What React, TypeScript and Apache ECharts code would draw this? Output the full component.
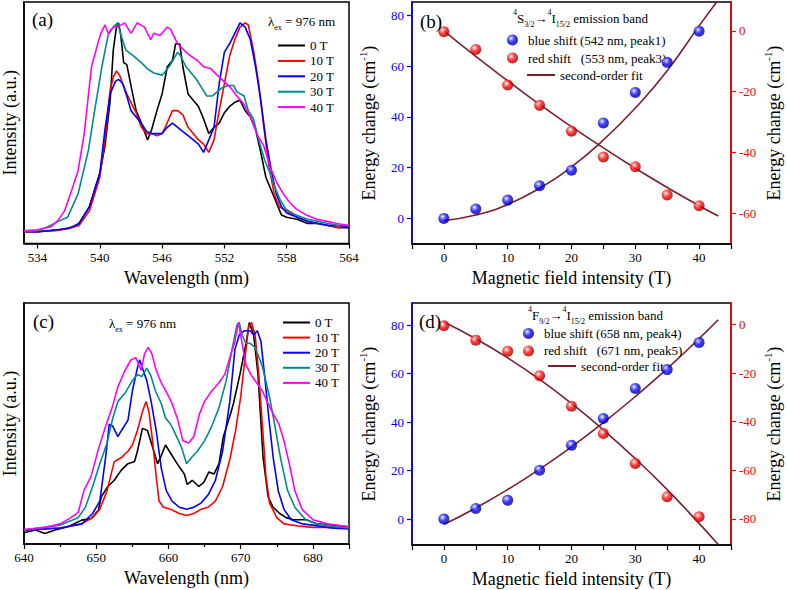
import React, { useEffect, useRef } from 'react';
import * as echarts from 'echarts';

const FONT = 'Liberation Serif';

// ---------- Panel (a): 4S3/2 -> 4I15/2 spectra (wavelength nm, intensity a.u.) ----------
const a0T: [number, number][] = [[532.7,0],[534,0],[536,0.8],[537.5,2.4],[538,4],[539,12],[540,28],[540.5,41],[541,63],[541.3,87],[541.6,98],[541.8,100],[542,95],[542.3,81],[542.6,80],[543,70],[543.5,58],[544,52],[544.6,44],[545,49],[545.5,58],[546,66],[546.5,79],[547,82],[547.3,90],[547.7,90],[548,79],[548.5,66],[549,63],[549.5,60],[550,54],[550.5,47],[551,50],[551.5,52],[552,57],[552.5,60],[553,62],[553.5,63],[554,58],[554.5,55],[555,49],[555.5,38],[556,26],[556.5,20],[557,14],[557.5,8],[558,7],[559,6],[560,4],[561,4],[562,3],[563,2],[564,2]];
const a10T: [number, number][] = [[532.7,0],[534,0],[536,0.8],[537,1.6],[538,3],[539,10],[540,26],[540.5,44],[541,68],[541.3,74],[541.6,77],[541.9,75],[542.2,71],[542.6,66],[543,62],[543.5,57],[544,50],[544.5,47],[545,47],[545.5,46],[546,47],[546.3,50],[547,58],[547.5,58],[548,56],[548.5,50],[549,47],[549.5,44],[550,42],[550.5,38],[551,44],[551.5,58],[552,71],[552.5,84],[553,92],[553.5,98],[554,100],[554.3,99],[554.8,87],[555.3,71],[555.8,50],[556.3,31],[556.8,18],[557.3,12],[558,10],[559,7],[560,5],[561,4],[562,3],[563,2],[564,3]];
const a20T: [number, number][] = [[532.7,0],[534,0],[537,1.6],[538,4],[539,12],[540,28],[540.5,49],[541,66],[541.5,72],[541.8,73],[542.2,71],[542.6,65],[543,58],[543.5,55],[544,52],[544.5,48],[545,47],[545.5,47],[546,47],[546.5,50],[547,52],[547.5,50],[548,48],[548.5,46],[549,44],[549.5,42],[550,38],[550.5,44],[551,50],[551.5,71],[552,86],[552.5,90],[553,95],[553.5,100],[554,98],[554.5,92],[555,79],[555.5,63],[556,44],[556.5,30],[557,18],[557.5,12],[558,9],[559,7],[560,5],[561,4],[562,3],[563,3],[564,2]];
const a30T: [number, number][] = [[532.7,0],[534,0.5],[535,2.4],[536,5],[536.9,7],[537.9,18],[538.9,39],[539.5,58],[540.2,79],[540.8,94],[541.3,98],[541.7,100],[542.05,94],[542.5,87],[543.3,84],[544,81],[544.6,78],[545.2,76],[546,75],[546.2,76],[546.8,80],[547.5,86],[547.8,84],[548.3,79],[548.8,76],[549.3,73],[549.8,69],[550.3,65],[550.8,65],[551.3,67],[551.8,69],[552.4,70],[552.9,70],[553.2,67],[553.9,65],[554.3,58],[554.8,54],[555.3,44],[555.9,34],[556.4,28],[556.8,22],[557.4,15],[557.9,11],[558.9,8],[560,6],[561,5],[562,4],[563,3],[564,3]];
const a40T: [number, number][] = [[532.7,0.5],[534,1],[535.3,2.4],[536,5.6],[536.6,10],[537.3,20],[537.9,29],[538.5,47],[539.2,79],[539.8,90],[540.1,95],[540.5,99],[540.8,95],[541.3,98],[541.7,98],[542.4,100],[543,95],[543.6,100],[544.3,98],[544.9,92],[545.2,95],[545.8,94],[546.5,98],[546.8,97],[547.5,90],[548.3,86],[548.8,84],[549.4,82],[550,79],[550.7,78],[551.3,75],[551.95,72],[552.6,69],[553.2,65],[553.9,61],[554.5,55],[555.2,46],[555.8,41],[556.4,31],[557.1,23],[557.7,18],[558.3,14],[558.9,11],[559.9,8],[560.9,6],[561.9,5],[562.8,4],[564,3]];

// ---------- Panel (c): 4F9/2 -> 4I15/2 spectra ----------
const c0T: [number, number][] = [[640,-1.3],[641.6,0],[642.9,-1.6],[644.3,0],[646.1,1.6],[648,4.8],[649.3,5.6],[650.3,9.6],[650.7,16],[651.6,21],[652.5,24],[653.5,29],[654.4,32],[655.3,33],[655.7,38],[656.4,49],[657.1,48],[657.8,40],[658.5,32],[658.9,35],[659.6,41],[660.3,37],[661.2,32],[662.2,27],[662.6,22],[663.3,24],[664.2,21],[664.9,23],[665.6,28],[666.3,27],[667,32],[667.6,45],[668.6,56],[669,61],[669.9,75],[670.8,91],[671.2,100],[671.8,94],[672.4,75],[673.1,35],[673.8,16],[674.5,11],[675.4,8],[676.3,6],[677.3,5],[678.2,5],[679.1,5],[680.5,3],[682.7,2.4],[684.9,1.6]];
const c10T: [number, number][] = [[640,0],[645,1],[648,3],[649.5,6],[650.5,10],[651.5,19],[652.5,33],[653.5,35],[654.4,38],[655,41],[655.7,48],[656.4,57],[656.9,62],[657.3,57],[657.8,43],[658.3,26],[658.7,14],[659.3,11],[660.3,10],[661.5,8],[662.5,7],[663.5,8],[664.5,10],[665.5,11],[666.5,14],[667.5,21],[668.5,34],[669.3,48],[670,64],[670.6,83],[671.1,98],[671.5,100],[672,94],[672.5,75],[673,51],[673.5,26],[674,13],[675,6],[676,3],[678,2],[680,1.3],[685,1.3]];
const c20T: [number, number][] = [[640,0],[645,1],[648,3],[649.5,8],[650.5,14],[651.3,35],[651.8,51],[652.3,50],[653,45],[653.5,48],[654.4,53],[655,67],[655.7,78],[656,82],[656.5,77],[657,72],[657.6,62],[658.3,48],[659,30],[659.7,19],[660.5,14],[661.5,11],[662.5,10],[663.5,11],[664.5,13],[665.5,17],[666.5,24],[667.5,38],[668.5,62],[669.2,87],[669.8,94],[670.5,96],[671.3,96],[671.8,94],[672.3,96],[672.8,91],[673.3,75],[673.9,54],[674.5,35],[675.2,19],[676,10],[677,5],[678.5,3],[680,2.4],[682.5,1],[685,0.5]];
const c30T: [number, number][] = [[640,0],[645,2.4],[647.5,6],[648.5,11],[649.5,21],[650.5,32],[651.5,42],[652.3,54],[653,62],[654,66],[655,72],[655.7,75],[656.3,74],[657,78],[657.6,74],[658.2,67],[659,61],[659.6,54],[660.3,51],[661,46],[661.8,40],[662.5,32],[663.2,35],[664,38],[665,43],[666,50],[667,59],[668,72],[668.8,87],[669.5,99],[669.8,100],[670.2,94],[670.7,90],[671.3,90],[672,88],[673,79],[674,64],[674.7,51],[675.5,35],[676.5,19],[677.5,11],[679,5],[680.5,3],[683,1.6],[685,1]];
const c40T: [number, number][] = [[640,0.3],[643,1.3],[645,3],[646.5,6],[647.5,8.5],[648.3,19],[649.3,26],[650.3,39],[651.3,50],[652.2,59],[653,69],[654,77],[654.8,82],[655.5,83],[656.2,77],[656.7,85],[657.2,88],[657.7,85],[658.3,77],[659,71],[659.8,66],[660.5,61],[661.3,53],[662,43],[662.8,42],[663.5,45],[664.3,56],[665,62],[666,67],[667,71],[667.8,75],[668.5,83],[669.2,91],[669.7,100],[670.2,90],[670.7,80],[671.4,75],[672.2,71],[673,67],[673.8,61],[674.5,56],[675.3,51],[676,43],[676.8,31],[677.5,19],[678.5,10],[680,5],[682,3],[685,1.6]];

const fieldNames = ['0 T', '10 T', '20 T', '30 T', '40 T'];
const fieldColors = ['#000000', '#ff0000', '#0000ff', '#008b8b', '#ff00ff'];

// ---------- Panels (b) and (d): energy shifts vs magnetic field ----------
const fieldT = [0, 5, 10, 15, 20, 25, 30, 35, 40];
const bBlue = [0, 3.7, 7.2, 12.9, 19, 37.6, 49.6, 61.5, 73.8];
const bRed = [-0.3, -6.1, -17.8, -24.5, -33, -41.5, -44.7, -54, -57.5];
const dBlue = [0, 4.4, 7.8, 20.2, 30.5, 41.5, 53.9, 61.7, 72.9];
const dRed = [-0.5, -6.4, -11, -21.1, -33.6, -44.9, -57.2, -70.9, -79.2];

const fitT = [0, 5, 10, 15, 20, 25, 30, 35, 40, 43];
const bBlueFit = [-0.9, 1.3, 5.5, 11.9, 20.3, 30.9, 43.5, 58.2, 75.9, 86.1];
const bRedFit = [0, -8.4, -16.4, -24.2, -31.5, -38.5, -45.2, -51.5, -57.5, -60.9];
const dBlueFit = [-2.2, 4.6, 12.2, 20.6, 29.8, 39.8, 50.6, 62.1, 74.5, 82.3];
const dRedFit = [1.1, -5.8, -13.7, -22.6, -32.5, -43.4, -55.2, -68.0, -81.9, -90.6];

const wlTicksA = [534, 540, 546, 552, 558, 564];
const leftTicks = [0, 20, 40, 60, 80];
const rightTicksB = [-60, -40, -20, 0];
const rightTicksD = [-80, -60, -40, -20, 0];

const bLegend = ['blue shift (542 nm, peak1)', 'red shift   (553 nm, peak3)'];
const dLegend = ['blue shift (658 nm, peak4)', 'red shift   (671 nm, peak5)'];
const fitName = 'second-order fit';

const ball = (c1: string, c2: string, c3: string) => ({
  type: 'radial', x: 0.38, y: 0.35, r: 0.62,
  colorStops: [
    { offset: 0, color: '#ffffff' },
    { offset: 0.28, color: c1 },
    { offset: 0.6, color: c2 },
    { offset: 1, color: c3 },
  ],
});
const blueBall = ball('#6a6aff', '#0000ff', '#000090');
const redBall = ball('#ff7070', '#ff0000', '#a00000');

const FIT_COLOR = '#7a1f2e';

const axisNameStyle = {
  fontSize: 18, fontFamily: FONT, color: '#000', lineHeight: 24,
  rich: { sup: { fontSize: 11, fontFamily: FONT, color: '#000', verticalAlign: 'top', lineHeight: 12 } },
};

function spectraX(gridIndex: number, min: number, max: number, extra: any) {
  return {
    type: 'value', gridIndex, min, max,
    axisLine: { onZero: false, lineStyle: { color: '#000', width: 1.5 } },
    splitLine: { show: false },
    name: 'Wavelength (nm)', nameLocation: 'middle', nameGap: 25,
    nameTextStyle: { fontSize: 18, fontFamily: FONT, color: '#000' },
    ...extra,
  };
}

function spectraY(gridIndex: number, min: number, max: number) {
  return {
    type: 'value', gridIndex, min, max,
    axisLine: { show: true, onZero: false, lineStyle: { color: '#000', width: 1.5 } },
    axisTick: { show: false }, axisLabel: { show: false }, splitLine: { show: false },
    name: 'Intensity (a.u.)', nameLocation: 'middle', nameGap: 5, nameRotate: 90,
    nameTextStyle: { fontSize: 18, fontFamily: FONT, color: '#000' },
  };
}

function fieldX(gridIndex: number) {
  return {
    type: 'value', gridIndex, min: -5, max: 45, interval: 5,
    axisLine: { onZero: false, lineStyle: { color: '#000', width: 1.5 } },
    axisTick: { length: 5, lineStyle: { color: '#000', width: 1.2 } },
    axisLabel: {
      fontSize: 13, fontFamily: FONT, color: '#000', margin: 7,
      formatter: (v: number) => (v % 10 === 0 ? String(v) : ''),
    },
    splitLine: { show: false },
    name: 'Magnetic field intensity (T)', nameLocation: 'middle', nameGap: 25,
    nameTextStyle: { fontSize: 18, fontFamily: FONT, color: '#000' },
  };
}

function energyY(gridIndex: number, position: string, min: number, max: number, ticks: number[], color: string, gap: number) {
  return {
    type: 'value', gridIndex, position, min, max,
    axisLine: { show: true, onZero: false, lineStyle: { color, width: 1.5 } },
    axisTick: { show: true, length: 5, customValues: ticks, lineStyle: { color, width: 1.2 } },
    axisLabel: { fontSize: 13, fontFamily: FONT, color, customValues: ticks, margin: 8 },
    splitLine: { show: false },
    name: 'Energy change (cm{sup|-1})', nameLocation: 'middle', nameGap: gap, nameRotate: 90,
    nameTextStyle: axisNameStyle,
  };
}

const richSS = {
  sup: { fontSize: 8, fontFamily: FONT, fill: '#000', verticalAlign: 'top', lineHeight: 9 },
  sub: { fontSize: 8, fontFamily: FONT, fill: '#000', verticalAlign: 'bottom', lineHeight: 9 },
};

function label(text: string, x: number, y: number, size: number) {
  return {
    type: 'text', x, y, z: 100,
    style: { text, fontSize: size, fontFamily: FONT, fill: '#000', verticalAlign: 'middle', align: 'left', lineHeight: 20, rich: richSS },
  };
}

export default function App() {
  const ref = useRef<HTMLDivElement>(null);
  useEffect(() => {
    if (!ref.current) return;
    const chart = echarts.init(ref.current, undefined, { renderer: 'svg' });
    const aSets = [a0T, a10T, a20T, a30T, a40T];
    const cSets = [c0T, c10T, c20T, c30T, c40T];
    const series: any[] = [];
    aSets.forEach((d, i) => series.push({
      type: 'line', name: fieldNames[i], xAxisIndex: 0, yAxisIndex: 0, data: d,
      symbol: 'none', showSymbol: false, color: fieldColors[i], lineStyle: { width: 1.6, color: fieldColors[i] },
    }));
    cSets.forEach((d, i) => series.push({
      type: 'line', name: fieldNames[i], xAxisIndex: 2, yAxisIndex: 3, data: d,
      symbol: 'none', showSymbol: false, color: fieldColors[i], lineStyle: { width: 1.6, color: fieldColors[i] },
    }));
    const fitLine = (xIdx: number, yIdx: number, vals: number[]) => ({
      type: 'line', name: fitName, xAxisIndex: xIdx, yAxisIndex: yIdx, smooth: true,
      data: fitT.map((t, i) => [t, vals[i]]), symbol: 'none', showSymbol: false,
      color: FIT_COLOR, lineStyle: { width: 1.6, color: FIT_COLOR }, z: 3,
    });
    const dots = (name: string, xIdx: number, yIdx: number, vals: number[], fill: any) => ({
      type: 'scatter', name, xAxisIndex: xIdx, yAxisIndex: yIdx, symbol: 'circle', symbolSize: 11,
      data: fieldT.map((t, i) => [t, vals[i]]), itemStyle: { color: fill }, z: 4,
    });
    series.push(fitLine(1, 1, bBlueFit), fitLine(1, 2, bRedFit));
    series.push(dots(bLegend[0], 1, 1, bBlue, blueBall), dots(bLegend[1], 1, 2, bRed, redBall));
    series.push(fitLine(3, 4, dBlueFit), fitLine(3, 5, dRedFit));
    series.push(dots(dLegend[0], 3, 4, dBlue, blueBall), dots(dLegend[1], 3, 5, dRed, redBall));

    const legText = { fontSize: 13, fontFamily: FONT, color: '#000' };
    const option: any = {
      animation: false,
      backgroundColor: '#ffffff',
      textStyle: { fontFamily: FONT },
      grid: [
        { left: 22, top: 2, width: 327, height: 241.5, show: true, borderColor: '#000', borderWidth: 1.5, backgroundColor: 'transparent' },
        { left: 412, top: 2, width: 325, height: 242, show: true, borderColor: '#000', borderWidth: 1.5, backgroundColor: 'transparent' },
        { left: 22, top: 303, width: 327, height: 241, show: true, borderColor: '#000', borderWidth: 1.5, backgroundColor: 'transparent' },
        { left: 412, top: 303, width: 325, height: 242, show: true, borderColor: '#000', borderWidth: 1.5, backgroundColor: 'transparent' },
      ],
      xAxis: [
        spectraX(0, 532.7, 564, {
          axisTick: { length: 5, customValues: wlTicksA, lineStyle: { color: '#000', width: 1.2 } },
          axisLabel: { fontSize: 13, fontFamily: FONT, color: '#000', margin: 7, customValues: wlTicksA },
        }),
        fieldX(1),
        spectraX(2, 640, 685, {
          interval: 10,
          axisTick: { length: 5, lineStyle: { color: '#000', width: 1.2 } },
          minorTick: { show: true, splitNumber: 2, length: 3, lineStyle: { color: '#000', width: 1.2 } },
          axisLabel: { fontSize: 13, fontFamily: FONT, color: '#000', margin: 7, showMaxLabel: false },
        }),
        fieldX(3),
      ],
      yAxis: [
        spectraY(0, -5.6, 110),
        energyY(1, 'left', -10.1, 85.3, leftTicks, '#0000ff', 31),
        energyY(1, 'right', -70.1, 9.5, rightTicksB, '#ff0000', 31),
        spectraY(2, -6.7, 109.4),
        energyY(3, 'left', -10.7, 89.2, leftTicks, '#0000ff', 31),
        energyY(3, 'right', -90.8, 8.9, rightTicksD, '#ff0000', 31),
      ],
      legend: [
        { orient: 'vertical', left: 278, top: 39, padding: 0, icon: 'rect', itemWidth: 27, itemHeight: 2, itemGap: 2.4, data: fieldNames, textStyle: legText, selectedMode: false },
        { orient: 'vertical', left: 283, top: 316, padding: 0, icon: 'rect', itemWidth: 27, itemHeight: 2, itemGap: 2.1, data: fieldNames, textStyle: legText, selectedMode: false },
        { orient: 'vertical', left: 507, top: 33.5, padding: 0, itemWidth: 11, itemHeight: 11, itemGap: 5, data: bLegend, textStyle: { ...legText, padding: [0, 0, 0, 5] }, selectedMode: false },
        { orient: 'vertical', left: 527, top: 68.5, padding: 0, icon: 'rect', itemWidth: 28, itemHeight: 2, data: [fitName], textStyle: legText, selectedMode: false },
        { orient: 'vertical', left: 523, top: 327, padding: 0, itemWidth: 11, itemHeight: 11, itemGap: 4.4, data: dLegend, textStyle: { ...legText, padding: [0, 0, 0, 5] }, selectedMode: false },
        { orient: 'vertical', left: 548, top: 359.5, padding: 0, icon: 'rect', itemWidth: 28, itemHeight: 2, data: [fitName], textStyle: legText, selectedMode: false },
      ],
      graphic: [
        label('(a)', 32, 19, 19),
        label('(b)', 420, 21, 19),
        label('(c)', 33, 321, 19),
        label('(d)', 419, 321, 19),
        label('λ{sub|ex} = 976 nm', 268, 21, 13),
        label('λ{sub|ex} = 976 nm', 109, 323, 13),
        label('{sup|4}S{sub|3/2}→{sup|4}I{sub|15/2} emission band', 513, 18, 13),
        label('{sup|4}F{sub|9/2}→{sup|4}I{sub|15/2} emission band', 528, 315, 13),
      ],
      series,
    };
    chart.setOption(option);
    return () => chart.dispose();
  }, []);
  return <div ref={ref} style={{ position: 'absolute', left: 0, top: 0, width: 787, height: 590, background: '#fff' }} />;
}
